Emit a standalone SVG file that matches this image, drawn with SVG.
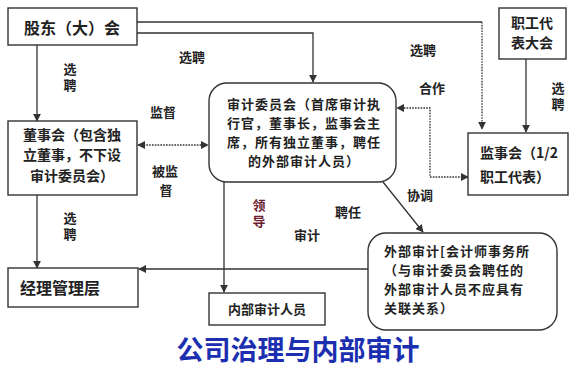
<svg xmlns="http://www.w3.org/2000/svg" width="582" height="369" viewBox="0 0 582 369">
<defs>
<marker id="ah" viewBox="0 0 10 10" refX="9" refY="5" markerWidth="8" markerHeight="8" markerUnits="userSpaceOnUse" orient="auto-start-reverse">
<path d="M0,0 L10,5 L0,10 Z" fill="#333"/>
</marker>
<style>
.box{fill:#fff;stroke:#333;stroke-width:1.4}
.t{font-family:"Noto Sans CJK SC","Noto Sans",sans-serif;font-weight:bold;fill:#222}
.s{font-size:13px;letter-spacing:1px}
.c{fill:none;stroke:#333;stroke-width:1.3}
.d{stroke-dasharray:1.6 1.2}
.lbl{font-family:"Noto Sans CJK SC","Noto Sans",sans-serif;font-weight:bold;font-size:13px;fill:#222;text-anchor:middle}
.v{writing-mode:vertical-rl;letter-spacing:3px}
</style>
</defs>
<rect width="582" height="369" fill="#fff"/>
<g id="connectors">
<path class="c" d="M137,22 H482" />
<path class="c d" d="M482,22 V129" marker-end="url(#ah)"/>
<path class="c" d="M137,33 H313 V82" marker-end="url(#ah)"/>
<path class="c" d="M37,45 V121" marker-end="url(#ah)"/>
<path class="c d" d="M138,145 H208" marker-start="url(#ah)" marker-end="url(#ah)"/>
<path class="c" d="M37,195 V268" marker-end="url(#ah)"/>
<path class="c" d="M526,59 V132" marker-end="url(#ah)"/>
<path class="c d" d="M468,177 H430 V108 H397" marker-start="url(#ah)" marker-end="url(#ah)"/>
<path class="c" d="M383,182 L423,232" marker-end="url(#ah)"/>
<path class="c" d="M224,182 V292" marker-end="url(#ah)"/>
<path class="c" d="M368,269 H139" marker-end="url(#ah)"/>
</g>
<g id="shareholders">
<rect class="box" x="8" y="8" width="129" height="37"/>
<text class="t" x="72" y="34" font-size="16" text-anchor="middle">股东（大）会</text>
</g>
<g id="board">
<rect class="box" x="8" y="121" width="129" height="74"/>
<text class="t" x="72" y="140" font-size="14" text-anchor="middle">董事会（包含独</text>
<text class="t" x="72" y="160" font-size="14" text-anchor="middle">立董事，不下设</text>
<text class="t" x="72" y="181" font-size="14" text-anchor="middle">审计委员会）</text>
</g>
<g id="audit-committee">
<rect class="box" x="209" y="83" width="187" height="99" rx="18"/>
<text class="t s" x="304" y="109" text-anchor="middle">审计委员会（首席审计执</text>
<text class="t s" x="304" y="128" text-anchor="middle">行官，董事长，监事会主</text>
<text class="t s" x="304" y="147" text-anchor="middle">席，所有独立董事，聘任</text>
<text class="t s" x="304" y="166" text-anchor="middle">的外部审计人员）</text>
</g>
<g id="workers-congress">
<rect class="box" x="499" y="8" width="67" height="51"/>
<text class="t" x="532" y="28" font-size="14" text-anchor="middle">职工代</text>
<text class="t" x="532" y="48" font-size="14" text-anchor="middle">表大会</text>
</g>
<g id="supervisors">
<rect class="box" x="468" y="133" width="100" height="62"/>
<text class="t" x="480" y="158" font-size="14">监事会（1/2</text>
<text class="t" x="480" y="182" font-size="14">职工代表）</text>
</g>
<g id="management">
<rect class="box" x="8" y="268" width="130" height="39"/>
<text class="t" x="20" y="294" font-size="16">经理管理层</text>
</g>
<g id="internal-audit">
<rect class="box" x="209" y="293" width="116" height="32"/>
<text class="t" x="267" y="314" font-size="13" text-anchor="middle">内部审计人员</text>
</g>
<g id="external-audit">
<rect class="box" x="368" y="233" width="189" height="97" rx="18"/>
<text class="t s" x="384" y="256">外部审计[会计师事务所</text>
<text class="t s" x="384" y="275">（与审计委员会聘任的</text>
<text class="t s" x="384" y="294">外部审计人员不应具有</text>
<text class="t s" x="384" y="313">关联关系）</text>
</g>
<g id="labels">
<text class="lbl" x="192" y="62">选聘</text>
<text class="lbl v" x="70" y="79">选聘</text>
<text class="lbl" x="163" y="117">监督</text>
<text class="lbl" x="165" y="176">被监</text>
<text class="lbl" x="166" y="195">督</text>
<text class="lbl v" x="70" y="228">选聘</text>
<text class="lbl v" x="259" y="215" style="fill:#6b2030">领导</text>
<text class="lbl" x="348" y="217">聘任</text>
<text class="lbl" x="307" y="240">审计</text>
<text class="lbl" x="420" y="200">协调</text>
<text class="lbl" x="432" y="93">合作</text>
<text class="lbl" x="423" y="55">选聘</text>
<text class="lbl v" x="558" y="98">选聘</text>
</g>
<text x="298" y="360" font-family="Noto Sans CJK SC,Noto Sans,sans-serif" font-size="27" font-weight="bold" fill="#1c2fb0" text-anchor="middle">公司治理与内部审计</text>
</svg>
